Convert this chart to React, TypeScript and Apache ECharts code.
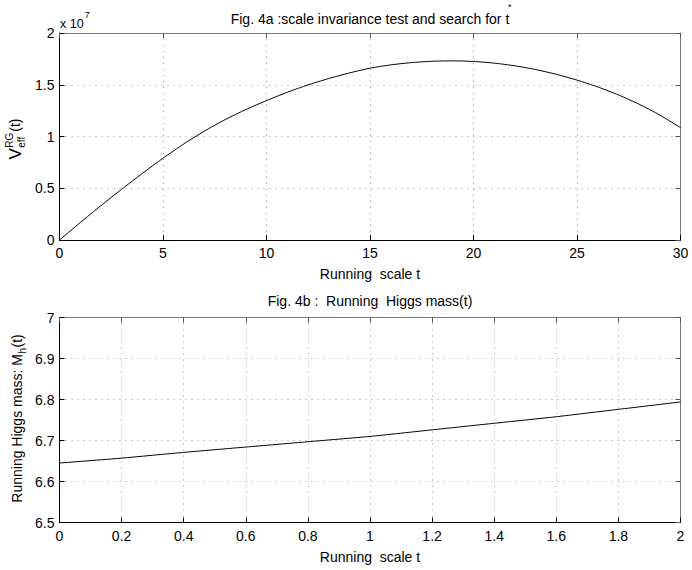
import React, { useEffect, useRef } from "react";
import * as echarts from "echarts";

// ---- Data ----
// Fig. 4a: V_eff^RG(t), values in units of 1e7
const tTop = [0, 1, 2, 3, 4, 5, 6, 7, 8, 9, 10, 11, 12, 13, 14, 15, 16, 17, 18, 19, 20, 21, 22, 23, 24, 25, 26, 27, 28, 29, 30];
const vEffScaled = [0, 0.168, 0.332, 0.49, 0.643, 0.79, 0.928, 1.052, 1.163, 1.26, 1.347, 1.427, 1.498, 1.56, 1.614, 1.66, 1.692, 1.714, 1.727, 1.731, 1.725, 1.709, 1.683, 1.647, 1.601, 1.545, 1.479, 1.402, 1.312, 1.207, 1.086];
const topScaleExponent = "7";

// Fig. 4b: running Higgs mass M_h(t)
const tBottom = [0, 0.2, 0.4, 0.6, 0.8, 1.0, 1.2, 1.4, 1.6, 1.8, 2.0];
const higgsMass = [6.645, 6.657, 6.671, 6.684, 6.697, 6.71, 6.726, 6.742, 6.758, 6.776, 6.794];

// Tick definitions
const topXTicks = [0, 5, 10, 15, 20, 25, 30];
const topYTicks = [0, 0.5, 1, 1.5, 2];
const bottomXTicks = [0, 0.2, 0.4, 0.6, 0.8, 1, 1.2, 1.4, 1.6, 1.8, 2];
const bottomYTicks = [6.5, 6.6, 6.7, 6.8, 6.9, 7];

const titleTop = "Fig. 4a :scale invariance test and search for t";
const titleBottom = "Fig. 4b :  Running  Higgs mass(t)";
const xAxisName = "Running  scale t";

const FONT = '"Liberation Sans", Arial, Helvetica, sans-serif';

function measure(text: string, size: number): number {
  const c = document.createElement("canvas").getContext("2d");
  if (!c) return text.length * size * 0.5;
  c.font = `${size}px "Liberation Sans"`;
  return c.measureText(text).width;
}

const fmt = (v: number) => String(Number(v.toFixed(3)));

function mainX(gridIndex: number, ticks: number[]) {
  return {
    type: "value",
    gridIndex,
    position: "bottom",
    min: ticks[0],
    max: ticks[ticks.length - 1],
    interval: Number((ticks[1] - ticks[0]).toFixed(3)),
    name: xAxisName,
    nameLocation: "middle",
    nameGap: 27,
    nameTextStyle: { color: "#000", fontSize: 14, fontFamily: FONT },
    axisLine: { show: true, onZero: false, lineStyle: { color: "#000", width: 1 } },
    axisTick: { show: true, inside: true, length: 5, lineStyle: { color: "#000" } },
    axisLabel: { margin: 6, color: "#000", fontSize: 14, fontFamily: FONT, formatter: fmt },
    splitLine: { show: true, lineStyle: { color: "#9a9a9a", width: 1, type: [1, 5] } },
  };
}
function secX(gridIndex: number, ticks: number[]) {
  return {
    type: "value",
    gridIndex,
    position: "top",
    min: ticks[0],
    max: ticks[ticks.length - 1],
    interval: Number((ticks[1] - ticks[0]).toFixed(3)),
    axisLine: { show: true, onZero: false, lineStyle: { color: "#7a7a7a", width: 1 } },
    axisTick: { show: true, inside: true, length: 5, lineStyle: { color: "#555" } },
    axisLabel: { show: false },
    splitLine: { show: false },
  };
}
function mainY(gridIndex: number, ticks: number[]) {
  return {
    type: "value",
    gridIndex,
    position: "left",
    min: ticks[0],
    max: ticks[ticks.length - 1],
    interval: Number((ticks[1] - ticks[0]).toFixed(3)),
    axisLine: { show: true, onZero: false, lineStyle: { color: "#000", width: 1 } },
    axisTick: { show: true, inside: true, length: 5, lineStyle: { color: "#000" } },
    axisLabel: { margin: 5, color: "#000", fontSize: 14, fontFamily: FONT, formatter: fmt },
    splitLine: { show: true, lineStyle: { color: "#9a9a9a", width: 1, type: [1, 5] } },
  };
}
function secY(gridIndex: number, ticks: number[]) {
  return {
    type: "value",
    gridIndex,
    position: "right",
    min: ticks[0],
    max: ticks[ticks.length - 1],
    interval: Number((ticks[1] - ticks[0]).toFixed(3)),
    axisLine: { show: true, onZero: false, lineStyle: { color: "#7a7a7a", width: 1 } },
    axisTick: { show: true, inside: true, length: 5, lineStyle: { color: "#555" } },
    axisLabel: { show: false },
    splitLine: { show: false },
  };
}

function txt(text: string, x: number, y: number, size: number, align = "left") {
  return {
    type: "text",
    x,
    y,
    style: {
      text,
      fontSize: size,
      fontFamily: FONT,
      fill: "#000",
      align,
      verticalAlign: "middle",
      textAlign: align,
      textVerticalAlign: "middle",
    },
  };
}

export default function App() {
  const ref = useRef<HTMLDivElement>(null);

  useEffect(() => {
    if (!ref.current) return;
    const chart = echarts.init(ref.current, undefined, { renderer: "svg" });

    // Top y label: V^RG_eff(t)
    const vW = measure("V", 17);
    const sW = Math.max(measure("RG", 10), measure("eff", 10));
    const pW = measure("(t)", 14);
    const topLabW = vW + sW + pW + 1.5;
    // Bottom y label: Running Higgs mass: M_h(t)
    const mainText = "Running Higgs mass: M";
    const mW = measure(mainText, 14);
    const hW = measure("h", 10);
    const botLabW = mW + hW + pW + 1;

    const titleW = measure(titleTop, 14);
    const x10W = measure("x 10", 12.5);

    const option = {
      animation: false,
      backgroundColor: "#fff",
      textStyle: { fontFamily: FONT },
      title: [
        {
          text: titleTop,
          left: 370,
          top: 12,
          padding: 0,
          textAlign: "center",
          textStyle: { color: "#000", fontSize: 14, fontWeight: "normal", fontFamily: FONT },
        },
        {
          text: titleBottom,
          left: 370,
          top: 294,
          padding: 0,
          textAlign: "center",
          textStyle: { color: "#000", fontSize: 14, fontWeight: "normal", fontFamily: FONT },
        },
      ],
      grid: [
        { left: 59.5, top: 33, width: 621, height: 207, show: false, containLabel: false },
        { left: 59.5, top: 317.5, width: 621, height: 205, show: false, containLabel: false },
      ],
      xAxis: [mainX(0, topXTicks), secX(0, topXTicks), mainX(1, bottomXTicks), secX(1, bottomXTicks)],
      yAxis: [mainY(0, topYTicks), secY(0, topYTicks), mainY(1, bottomYTicks), secY(1, bottomYTicks)],
      series: [
        {
          type: "line",
          xAxisIndex: 0,
          yAxisIndex: 0,
          data: tTop.map((t, i) => [t, vEffScaled[i]]),
          showSymbol: false,
          smooth: 0.2,
          lineStyle: { color: "#000", width: 1 },
          z: 5,
        },
        {
          type: "line",
          xAxisIndex: 2,
          yAxisIndex: 2,
          data: tBottom.map((t, i) => [t, higgsMass[i]]),
          showSymbol: false,
          smooth: 0.2,
          lineStyle: { color: "#000", width: 1 },
          z: 5,
        },
      ],
      graphic: [
        // asterisk (superscript) on the top title
        txt("*", 370 + titleW / 2 + 0.5, 6.5, 9, "center"),
        // x 10^7
        txt("x 10", 60, 24, 12.5),
        txt(topScaleExponent, 60 + x10W + 1, 15, 9),
        {
          type: "group",
          x: 15,
          y: 139 + topLabW / 2,
          rotation: Math.PI / 2,
          children: [
            txt("V", 0, 0, 17),
            txt("RG", vW + 0.5, -6, 10),
            txt("eff", vW + 0.5, 6, 10),
            txt("(t)", vW + sW + 1.5, 0, 14),
          ],
        },
        {
          type: "group",
          x: 17,
          y: 418.5 + botLabW / 2,
          rotation: Math.PI / 2,
          children: [
            txt(mainText, 0, 0, 14),
            txt("h", mW + 0.5, 5, 10),
            txt("(t)", mW + hW + 1, 0, 14),
          ],
        },
      ],
    };

    chart.setOption(option as any);
    return () => chart.dispose();
  }, []);

  return (
    <div
      ref={ref}
      style={{ position: "fixed", left: 0, top: 0, width: 692, height: 570, background: "#fff" }}
    />
  );
}
